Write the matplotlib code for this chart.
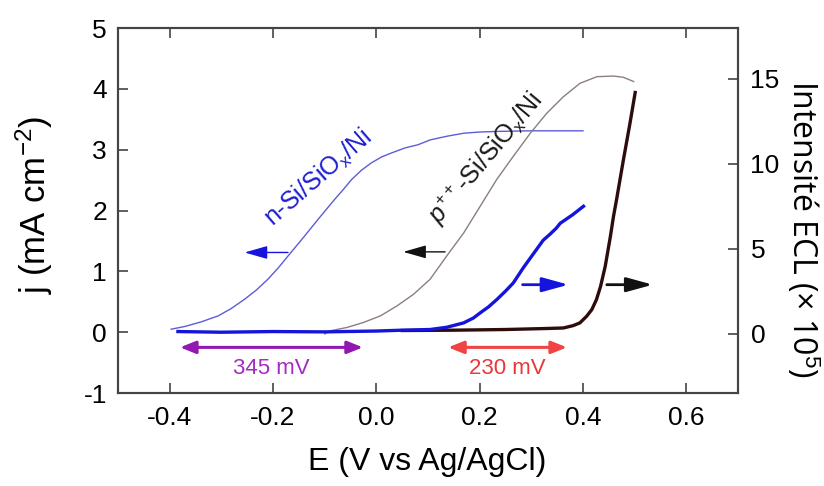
import matplotlib
matplotlib.use("Agg")
import matplotlib.pyplot as plt

plt.rcParams['font.family'] = ['Liberation Sans', 'DejaVu Sans']
plt.rcParams['mathtext.fontset'] = 'custom'
plt.rcParams['mathtext.rm'] = 'Liberation Sans'
plt.rcParams['mathtext.it'] = 'Liberation Sans:italic'
plt.rcParams['axes.unicode_minus'] = False

# voltammogrammes (axe gauche, mA cm-2)
E_cv_n = [-0.397, -0.371, -0.339, -0.306, -0.281, -0.255, -0.232, -0.210, -0.190,
          -0.171, -0.155, -0.139, -0.126, -0.113, -0.097, -0.081, -0.064, -0.048,
          -0.029, -0.010, 0.010, 0.029, 0.055, 0.081, 0.104, 0.136, 0.169, 0.20,
          0.233, 0.30, 0.40]
j_cv_n = [0.049, 0.093, 0.169, 0.268, 0.388, 0.541, 0.694, 0.869, 1.055,
          1.251, 1.415, 1.579, 1.716, 1.852, 2.016, 2.18, 2.344, 2.508,
          2.661, 2.781, 2.88, 2.945, 3.027, 3.082, 3.16, 3.22, 3.27, 3.29,
          3.30, 3.31, 3.31]

E_cv_p = [-0.10, -0.0895, -0.057, -0.025, 0.008, 0.040, 0.072, 0.104, 0.136,
          0.169, 0.201, 0.233, 0.265, 0.298, 0.330, 0.362, 0.394, 0.427, 0.459,
          0.478, 0.498]
j_cv_p = [-0.03, 0.022, 0.077, 0.159, 0.268, 0.432, 0.623, 0.869, 1.25,
          1.63, 2.07, 2.51, 2.89, 3.27, 3.60, 3.87, 4.09, 4.20, 4.21,
          4.19, 4.12]

# intensite ECL (axe droit, x 1e5)
E_ecl_n = [-0.384, -0.3, -0.2, -0.1, 0.0, 0.05, 0.104, 0.136, 0.169, 0.188,
           0.201, 0.217, 0.233, 0.25, 0.265, 0.285, 0.304, 0.323, 0.336, 0.348,
           0.356, 0.368, 0.38, 0.401]
ecl_n = [0.12, 0.08, 0.12, 0.1, 0.15, 0.2, 0.24, 0.37, 0.63, 0.92,
         1.22, 1.57, 2.0, 2.5, 2.98, 3.9, 4.7, 5.5, 5.85, 6.2,
         6.5, 6.75, 7.0, 7.5]

E_ecl_p = [0.05, 0.15, 0.25, 0.33, 0.362, 0.381, 0.394, 0.407, 0.417, 0.426,
           0.434, 0.443, 0.453, 0.459, 0.465, 0.478, 0.491, 0.501]
ecl_p = [0.18, 0.2, 0.24, 0.3, 0.33, 0.47, 0.63, 1.02, 1.41, 2.0,
         2.78, 3.96, 5.72, 6.9, 7.9, 10.2, 12.4, 14.2]

x_ticks = [-0.4, -0.2, 0.0, 0.2, 0.4, 0.6]
x_labels = ['-0.4', '-0.2', '0.0', '0.2', '0.4', '0.6']
y_ticks = [-1, 0, 1, 2, 3, 4, 5]
y2_ticks = [0, 5, 10, 15]

fig = plt.figure(figsize=(8.24, 4.86), dpi=100)
ax1 = fig.add_axes([118 / 824, 1 - 393 / 486, 620 / 824, 365 / 486])
ax2 = ax1.twinx()

ax1.plot(E_cv_n, j_cv_n, color='#5c5cd8', lw=1.0)
ax1.plot(E_cv_p, j_cv_p, color='#8c7e7e', lw=1.0)
ax2.plot(E_ecl_p, ecl_p, color='#2e0c0c', lw=2.4, solid_joinstyle='round')
ax2.plot(E_ecl_n, ecl_n, color='#1414dc', lw=2.4, solid_joinstyle='round')

ax1.set_xlim(-0.5, 0.7)
ax1.set_ylim(-1, 5)
ax2.set_ylim(-3.5, 18)
ax1.set_xticks(x_ticks)
ax1.set_xticklabels(x_labels)
ax1.set_yticks(y_ticks)
ax2.set_yticks(y2_ticks)

for ax in (ax1, ax2):
    for sp in ax.spines.values():
        sp.set_color('#444444')
        sp.set_linewidth(1.5)
ax1.tick_params(axis='both', direction='in', length=7, width=1.2, color='#444444',
                labelsize=19, top=True, right=False)
ax1.tick_params(axis='x', pad=9)
ax1.tick_params(axis='y', pad=8)
ax2.tick_params(axis='y', direction='in', length=7, width=1.2, color='#444444',
                labelsize=19, pad=9)

fig.text(0.518, 1 - 462 / 486, 'E (V vs Ag/AgCl)', fontsize=23, ha='center', va='center')
fig.text(34 / 824, 1 - 205 / 486, r'j (mA cm$^{-2}$)', fontsize=25, rotation=90,
         ha='center', va='center')
fig.text(802 / 824, 1 - 229 / 486, r'Intensité ECL (× 10$^{5}$)', fontsize=23,
         rotation=270, ha='center', va='center', family=['Open Sans', 'DejaVu Sans'])

ax1.text(-0.112, 2.54, r'n-Si/SiO$_{\mathrm{x}}$/Ni', color='#1f1fd0',
         fontsize=18, rotation=41, ha='center', va='center')
ax1.text(0.213, 2.86, r'$\mathit{p}^{++}$-Si/SiO$_{\mathrm{x}}$/Ni', color='#1a1a1a',
         fontsize=18, rotation=50, ha='center', va='center')

# fleches vers l'axe gauche
left_arrow = '-|>,head_length=0.7,head_width=0.2'
ax1.annotate('', xy=(-0.255, 1.31), xytext=(-0.171, 1.31),
             arrowprops=dict(arrowstyle=left_arrow, color='#1414dc', lw=1.0,
                             mutation_scale=20, shrinkA=0, shrinkB=0))
ax1.annotate('', xy=(0.052, 1.32), xytext=(0.133, 1.32),
             arrowprops=dict(arrowstyle=left_arrow, color='#111111', lw=1.0,
                             mutation_scale=20, shrinkA=0, shrinkB=0))

# fleches vers l'axe droit
right_arrow = '-|>,head_length=0.8,head_width=0.22'
ax2.annotate('', xy=(0.372, 2.88), xytext=(0.283, 2.88),
             arrowprops=dict(arrowstyle=right_arrow, color='#1414dc', lw=2.0,
                             mutation_scale=20, shrinkA=0, shrinkB=0))
ax2.annotate('', xy=(0.535, 2.88), xytext=(0.446, 2.88),
             arrowprops=dict(arrowstyle=right_arrow, color='#111111', lw=2.0,
                             mutation_scale=20, shrinkA=0, shrinkB=0))

# ecarts de potentiel
both = '<|-|>,head_length=0.55,head_width=0.22'
ax2.annotate('', xy=(-0.380, -0.25), xytext=(-0.026, -0.25), xycoords=ax1.transData,
             textcoords=ax1.transData,
             arrowprops=dict(arrowstyle=both, color='#9218b0', lw=2.2,
                             mutation_scale=17, shrinkA=0, shrinkB=0))
ax2.annotate('', xy=(0.139, -0.25), xytext=(0.369, -0.25), xycoords=ax1.transData,
             textcoords=ax1.transData,
             arrowprops=dict(arrowstyle=both, color='#f04444', lw=2.2,
                             mutation_scale=17, shrinkA=0, shrinkB=0))
ax1.text(-0.203, -0.6, '345 mV', color='#a42cc0', fontsize=16, ha='center', va='center')
ax1.text(0.254, -0.6, '230 mV', color='#e83838', fontsize=16, ha='center', va='center')

fig.savefig('out.png', dpi=100)
